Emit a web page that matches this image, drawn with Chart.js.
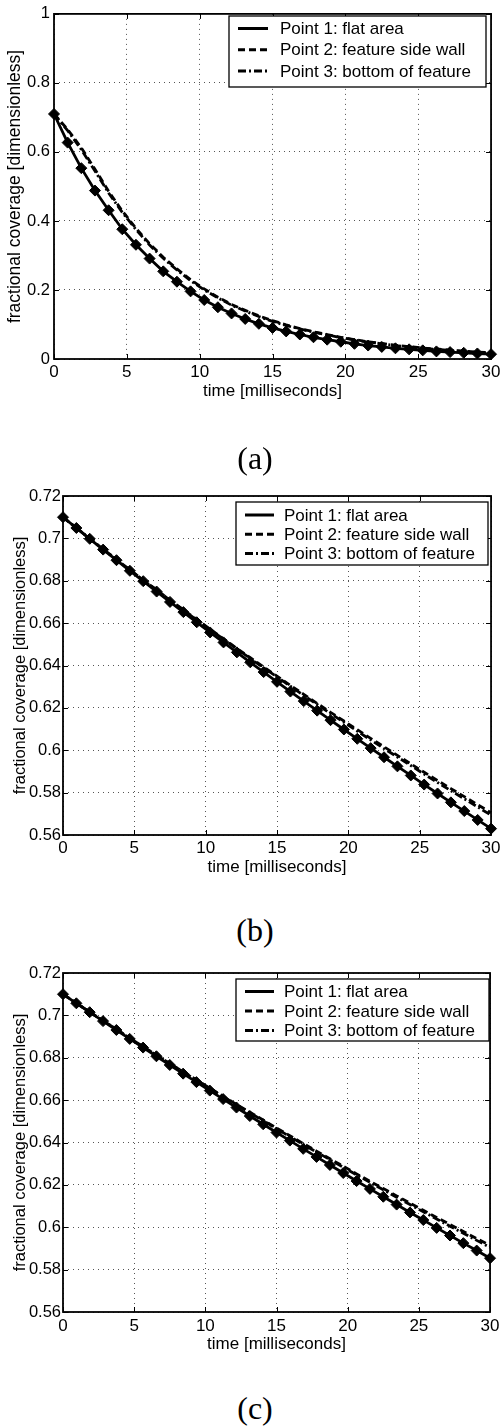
<!DOCTYPE html>
<html>
<head>
<meta charset="utf-8">
<script src="https://cdn.jsdelivr.net/npm/chart.js@4.4.1/dist/chart.umd.min.js"></script>
<style>
  html, body { margin: 0; padding: 0; background: #fff; }
  body { width: 504px; height: 1426px; position: relative; overflow: hidden; }
  canvas { position: absolute; left: 0; }
  .cap { position: absolute; width: 504px; text-align: center; font-family: "Liberation Serif", "DejaVu Serif", serif; font-size: 32px; line-height: 32px; color: #000; }
</style>
</head>
<body>
<canvas id="ca" width="504" height="410" style="top:0px"></canvas>
<canvas id="cb" width="504" height="410" style="top:470px"></canvas>
<canvas id="cc" width="504" height="410" style="top:950px"></canvas>
<div class="cap" style="top:442px; left:3px">(a)</div>
<div class="cap" style="top:914px; left:3px">(b)</div>
<div class="cap" style="top:1392px; left:3px">(c)</div>
<script>
// ---- data ----
const time = [0, 0.9375, 1.875, 2.8125, 3.75, 4.6875, 5.625, 6.5625, 7.5, 8.4375, 9.375, 10.3125, 11.25, 12.1875, 13.125, 14.0625, 15, 15.9375, 16.875, 17.8125, 18.75, 19.6875, 20.625, 21.5625, 22.5, 23.4375, 24.375, 25.3125, 26.25, 27.1875, 28.125, 29.0625, 30];

const seriesNames = ['Point 1: flat area', 'Point 2: feature side wall', 'Point 3: bottom of feature'];

const xTicks = [0, 5, 10, 15, 20, 25, 30];
const xTickLabels = ['0', '5', '10', '15', '20', '25', '30'];
const yTicksA = [0, 0.2, 0.4, 0.6, 0.8, 1];
const yTickLabelsA = ['0', '0.2', '0.4', '0.6', '0.8', '1'];
const yTicksBC = [0.56, 0.58, 0.6, 0.62, 0.64, 0.66, 0.68, 0.7, 0.72];
const yTickLabelsBC = ['0.56', '0.58', '0.6', '0.62', '0.64', '0.66', '0.68', '0.7', '0.72'];

const xTitle = 'time [milliseconds]';
const yTitle = 'fractional coverage [dimensionless]';

// (a)
const flatA = [0.710, 0.627, 0.553, 0.488, 0.431, 0.376, 0.331, 0.291, 0.254, 0.224, 0.196, 0.171, 0.150, 0.132, 0.116, 0.102, 0.090, 0.080, 0.071, 0.063, 0.056, 0.050, 0.044, 0.039, 0.035, 0.031, 0.028, 0.025, 0.022, 0.020, 0.018, 0.016, 0.014];
const sideA = [0.710, 0.665, 0.612, 0.550, 0.486, 0.429, 0.379, 0.334, 0.295, 0.261, 0.230, 0.203, 0.179, 0.158, 0.141, 0.125, 0.111, 0.099, 0.088, 0.079, 0.071, 0.063, 0.056, 0.050, 0.045, 0.040, 0.036, 0.032, 0.029, 0.026, 0.023, 0.020, 0.018];
const bottomA = [0.710, 0.662, 0.607, 0.545, 0.481, 0.425, 0.375, 0.330, 0.292, 0.258, 0.227, 0.200, 0.177, 0.156, 0.139, 0.123, 0.109, 0.097, 0.087, 0.078, 0.070, 0.062, 0.055, 0.049, 0.044, 0.039, 0.035, 0.031, 0.028, 0.025, 0.022, 0.019, 0.017];

// (b)
const flatB = [0.7100, 0.7049, 0.6998, 0.6947, 0.6897, 0.6847, 0.6798, 0.6749, 0.6700, 0.6652, 0.6604, 0.6556, 0.6509, 0.6462, 0.6415, 0.6369, 0.6323, 0.6277, 0.6232, 0.6187, 0.6142, 0.6098, 0.6054, 0.6010, 0.5967, 0.5924, 0.5881, 0.5838, 0.5796, 0.5754, 0.5713, 0.5671, 0.5630];
const sideB = [0.7100, 0.7049, 0.6999, 0.6949, 0.6900, 0.6852, 0.6804, 0.6757, 0.6709, 0.6663, 0.6617, 0.6571, 0.6526, 0.6481, 0.6437, 0.6393, 0.6350, 0.6306, 0.6264, 0.6221, 0.6179, 0.6138, 0.6097, 0.6056, 0.6016, 0.5976, 0.5936, 0.5896, 0.5857, 0.5819, 0.5781, 0.5743, 0.5705];
const bottomB = [0.7100, 0.7049, 0.6999, 0.6948, 0.6900, 0.6851, 0.6803, 0.6756, 0.6708, 0.6662, 0.6615, 0.6569, 0.6524, 0.6478, 0.6433, 0.6389, 0.6346, 0.6302, 0.6259, 0.6216, 0.6173, 0.6132, 0.6090, 0.6049, 0.6008, 0.5968, 0.5928, 0.5887, 0.5848, 0.5809, 0.5771, 0.5732, 0.5694];

// (c)
const flatC = [0.7100, 0.7057, 0.7015, 0.6973, 0.6931, 0.6889, 0.6848, 0.6807, 0.6766, 0.6725, 0.6685, 0.6645, 0.6605, 0.6565, 0.6525, 0.6486, 0.6447, 0.6409, 0.6370, 0.6332, 0.6294, 0.6256, 0.6218, 0.6181, 0.6144, 0.6107, 0.6070, 0.6034, 0.5997, 0.5961, 0.5925, 0.5890, 0.5854];
const sideC = [0.7100, 0.7058, 0.7016, 0.6975, 0.6934, 0.6893, 0.6853, 0.6813, 0.6773, 0.6734, 0.6695, 0.6657, 0.6618, 0.6580, 0.6543, 0.6506, 0.6468, 0.6432, 0.6395, 0.6359, 0.6323, 0.6288, 0.6252, 0.6217, 0.6183, 0.6148, 0.6114, 0.6080, 0.6046, 0.6013, 0.5980, 0.5947, 0.5914];
const bottomC = [0.7100, 0.7058, 0.7016, 0.6975, 0.6934, 0.6893, 0.6852, 0.6812, 0.6772, 0.6733, 0.6694, 0.6655, 0.6616, 0.6578, 0.6540, 0.6503, 0.6465, 0.6428, 0.6391, 0.6355, 0.6319, 0.6283, 0.6247, 0.6212, 0.6177, 0.6142, 0.6107, 0.6073, 0.6039, 0.6005, 0.5972, 0.5938, 0.5905];

// ---- styling / drawing ----
const FONT = '"Liberation Sans", Arial, Helvetica, sans-serif';
const DASHES = [[], [7, 4], [8, 3, 2, 3]];

const framePlugin = {
  id: 'frame',
  afterDraw(chart, args, opts) {
    const ctx = chart.ctx;
    const a = chart.chartArea;
    const xs = chart.scales.x, ys = chart.scales.y;
    ctx.save();
    ctx.strokeStyle = '#000';
    ctx.lineWidth = 1;
    const tl = 5;
    const seg = (x1, y1, x2, y2) => { ctx.beginPath(); ctx.moveTo(x1, y1); ctx.lineTo(x2, y2); ctx.stroke(); };
    xs.ticks.forEach(t => {
      const px = Math.round(xs.getPixelForValue(t.value)) + 0.5;
      seg(px, a.bottom, px, a.bottom - tl);
      seg(px, a.top, px, a.top + tl);
    });
    ys.ticks.forEach(t => {
      const py = Math.round(ys.getPixelForValue(t.value)) + 0.5;
      seg(a.left, py, a.left + tl, py);
      seg(a.right, py, a.right - tl, py);
    });
    ctx.lineWidth = 1.8;
    ctx.strokeRect(a.left, a.top, a.right - a.left, a.bottom - a.top);
    const L = opts.legend;
    ctx.fillStyle = '#fff';
    ctx.fillRect(L.left, L.top, L.width, L.height);
    ctx.lineWidth = 1.3;
    ctx.strokeRect(L.left, L.top, L.width, L.height);
    ctx.font = '17px ' + FONT;
    ctx.textBaseline = 'middle';
    ctx.textAlign = 'left';
    chart.data.datasets.forEach((ds, i) => {
      const ry = L.top + L.firstRow + i * L.rowGap;
      ctx.lineWidth = 3;
      ctx.setLineDash(ds.borderDash || []);
      seg(L.lineX1, ry, L.lineX2, ry);
      ctx.setLineDash([]);
      ctx.fillStyle = '#000';
      ctx.fillText(ds.label, L.textX, ry + 1);
    });
    ctx.restore();
  }
};

function makeChart(id, series, yTicks, yLabels, ymin, ymax, lay) {
  const datasets = series.map((vals, i) => ({
    label: seriesNames[i],
    data: time.map((t, k) => ({ x: t, y: vals[k] })),
    borderColor: '#000',
    borderWidth: 2.8,
    borderDash: DASHES[i],
    tension: 0,
    fill: false,
    clip: false,
    pointStyle: 'rectRot',
    pointRadius: i === 0 ? 5.5 : 0,
    pointBackgroundColor: '#000',
    pointBorderColor: '#000',
    pointBorderWidth: 1
  }));
  datasets[0].order = 0; datasets[1].order = 2; datasets[2].order = 1;
  return new Chart(document.getElementById(id), {
    type: 'line',
    data: { datasets },
    plugins: [framePlugin],
    options: {
      responsive: false,
      animation: false,
      devicePixelRatio: 1,
      events: [],
      layout: { padding: { left: 0, top: lay.padTop, right: 11, bottom: 0 } },
      plugins: {
        legend: { display: false },
        tooltip: { enabled: false },
        frame: { legend: lay.legend }
      },
      scales: {
        x: {
          type: 'linear', min: 0, max: 30,
          afterBuildTicks: s => { s.ticks = xTicks.map(v => ({ value: v })); },
          afterFit: s => { s.height = lay.xHeight; },
          ticks: { autoSkip: false, maxRotation: 0, padding: lay.xTickPad, color: '#000',
                   font: { family: FONT, size: 17 },
                   callback: (v, i) => xTickLabels[i] },
          grid: { display: true, drawTicks: false, color: '#555', lineWidth: 1 },
          border: { display: false, dash: [1, 4] },
          title: { display: true, text: xTitle, color: '#000',
                   font: { family: FONT, size: 17, lineHeight: 1 },
                   padding: { top: 0, bottom: lay.xTitlePad } }
        },
        y: {
          type: 'linear', min: ymin, max: ymax,
          afterBuildTicks: s => { s.ticks = yTicks.map(v => ({ value: v })); },
          afterFit: s => { s.width = lay.yWidth; },
          ticks: { autoSkip: false, padding: lay.yTickPad, color: '#000',
                   font: { family: FONT, size: 16.5 },
                   callback: (v, i) => yLabels[i] },
          grid: { display: true, drawTicks: false, color: '#555', lineWidth: 1 },
          border: { display: false, dash: [1, 4] },
          title: { display: true, text: yTitle, color: '#000',
                   font: { family: FONT, size: lay.yTitleSize, lineHeight: 1 },
                   padding: { top: lay.yTitlePad, bottom: 0 } }
        }
      }
    }
  });
}

makeChart('ca', [flatA, sideA, bottomA], yTicksA, yTickLabelsA, 0, 1, {
  padTop: 13, xHeight: 51, xTickPad: 3.5, xTitlePad: 10.5, yWidth: 54, yTickPad: 4,
  yTitleSize: 17.5, yTitlePad: 6,
  legend: { left: 229, top: 16, width: 257, height: 71, firstRow: 12.5, rowGap: 21.3, lineX1: 238, lineX2: 268, textX: 280 }
});
makeChart('cb', [flatB, sideB, bottomB], yTicksBC, yTickLabelsBC, 0.56, 0.72, {
  padTop: 26, xHeight: 45, xTickPad: 3.5, xTitlePad: 4.5, yWidth: 63, yTickPad: 2,
  yTitleSize: 16.5, yTitlePad: 12.5,
  legend: { left: 236, top: 32, width: 252, height: 63, firstRow: 13, rowGap: 19.3, lineX1: 245, lineX2: 274, textX: 284 }
});
makeChart('cc', [flatC, sideC, bottomC], yTicksBC, yTickLabelsBC, 0.56, 0.72, {
  padTop: 23, xHeight: 48, xTickPad: 4.5, xTitlePad: 7.5, yWidth: 63, yTickPad: 2,
  yTitleSize: 16.5, yTitlePad: 12.5,
  legend: { left: 236, top: 29, width: 253, height: 62, firstRow: 12.5, rowGap: 19.5, lineX1: 245, lineX2: 274, textX: 284 }
});
</script>
</body>
</html>
